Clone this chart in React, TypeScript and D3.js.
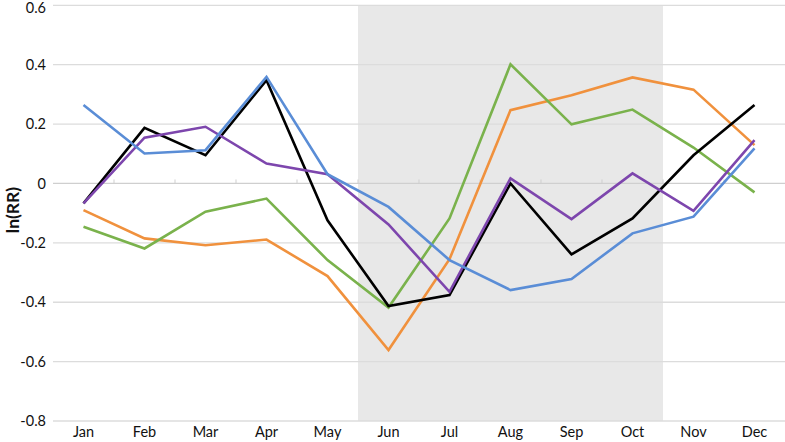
import React, { useEffect, useRef } from "react";
import * as d3 from "d3";

const months = ["Jan", "Feb", "Mar", "Apr", "May", "Jun", "Jul", "Aug", "Sep", "Oct", "Nov", "Dec"];
const yTicks = [0.6, 0.4, 0.2, 0, -0.2, -0.4, -0.6, -0.8];
const shadedMonths = ["Jun", "Oct"];

const orangeVals = [-0.09, -0.185, -0.208, -0.189, -0.312, -0.561, -0.255, 0.247, 0.297, 0.357, 0.316, 0.129];
const greenVals = [-0.146, -0.219, -0.095, -0.051, -0.258, -0.418, -0.118, 0.401, 0.199, 0.249, 0.121, -0.03];
const blackVals = [-0.067, 0.187, 0.095, 0.348, -0.124, -0.413, -0.376, 0.0, -0.239, -0.118, 0.095, 0.264];
const purpleVals = [-0.067, 0.154, 0.191, 0.067, 0.031, -0.138, -0.365, 0.017, -0.12, 0.034, -0.092, 0.146];
const blueVals = [0.264, 0.101, 0.112, 0.359, 0.031, -0.079, -0.258, -0.359, -0.322, -0.168, -0.112, 0.118];

const series = [
  { name: "orange", color: "#f0913d", values: orangeVals },
  { name: "green", color: "#7ab24c", values: greenVals },
  { name: "black", color: "#000000", values: blackVals },
  { name: "purple", color: "#7d46ad", values: purpleVals },
  { name: "blue", color: "#5a8dd6", values: blueVals },
];

const App = () => {
  const ref = useRef<SVGSVGElement>(null);
  const width = 785;
  const height = 442;
  const margin = { top: 5.3, right: 0, bottom: 21, left: 53 };

  useEffect(() => {
    const svg = d3.select(ref.current);
    svg.selectAll("*").remove();

    const x = d3.scaleBand().domain(months).range([margin.left, width - margin.right]);
    const y = d3.scaleLinear().domain([-0.8, 0.6]).range([height - margin.bottom, margin.top]);
    const font = "Lato, 'Open Sans', sans-serif";

    // shaded season
    const x0 = x(shadedMonths[0])!;
    const x1 = x(shadedMonths[1])! + x.bandwidth();
    svg.append("rect")
      .attr("x", x0)
      .attr("y", y(0.6))
      .attr("width", x1 - x0)
      .attr("height", y(-0.8) - y(0.6))
      .style("fill", "#e8e8e8");

    // gridlines
    svg.selectAll(".grid")
      .data(yTicks)
      .enter()
      .append("line")
      .attr("x1", margin.left)
      .attr("x2", width - margin.right)
      .attr("y1", d => y(d))
      .attr("y2", d => y(d))
      .style("stroke", d => (d === 0 ? "#cfcfcf" : "#dcdcdc"))
      .style("stroke-width", "1.3px");

    // ticks on zero axis
    svg.selectAll(".tick-mark")
      .data(months.slice(1))
      .enter()
      .append("line")
      .attr("x1", d => x(d)!)
      .attr("x2", d => x(d)!)
      .attr("y1", y(0))
      .attr("y2", y(0) - 4)
      .style("stroke", "#cfcfcf")
      .style("stroke-width", "1px");

    // y labels (top one nudged so it isn't clipped)
    svg.selectAll(".ylab")
      .data(yTicks)
      .enter()
      .append("text")
      .attr("x", 46)
      .attr("y", d => Math.max(y(d), 7.5))
      .attr("dy", "0.35em")
      .attr("text-anchor", "end")
      .style("font-family", font)
      .style("font-size", "14.5px")
      .style("fill", "#111")
      .text(d => (d === 0 ? "0" : d.toFixed(1)));

    // x labels
    svg.selectAll(".xlab")
      .data(months)
      .enter()
      .append("text")
      .attr("x", d => x(d)! + x.bandwidth() / 2)
      .attr("y", 437)
      .attr("text-anchor", "middle")
      .style("font-family", font)
      .style("font-size", "14.5px")
      .style("fill", "#111")
      .text(d => d);

    // axis title
    svg.append("text")
      .attr("transform", "translate(19,210) rotate(-90)")
      .attr("text-anchor", "middle")
      .style("font-family", font)
      .style("font-size", "17.5px")
      .style("font-weight", "bold")
      .style("fill", "#111")
      .text("ln(RR)");

    const line = d3.line<number>()
      .x((d, i) => x(months[i])! + x.bandwidth() / 2)
      .y(d => y(d));

    svg.selectAll(".series")
      .data(series)
      .enter()
      .append("path")
      .attr("d", d => line(d.values))
      .style("fill", "none")
      .style("stroke", d => d.color)
      .style("stroke-width", "2.6px")
      .style("stroke-linejoin", "miter");
  }, []);

  return (
    <svg
      ref={ref}
      width={width}
      height={height}
      style={{ position: "absolute", left: 0, top: 0, background: "white" }}
    />
  );
};

export default App;
